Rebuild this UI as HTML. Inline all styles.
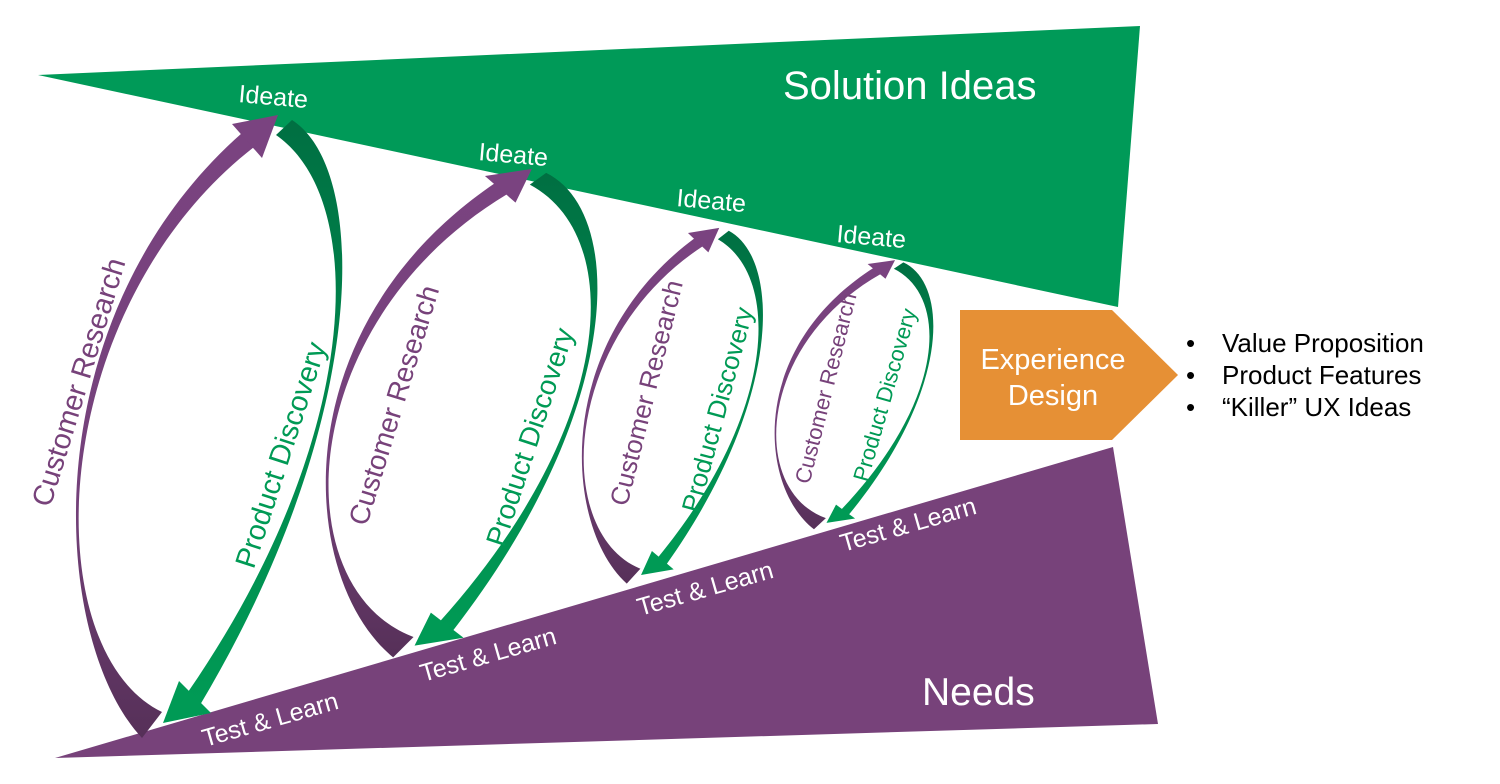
<!DOCTYPE html>
<html><head><meta charset="utf-8"><style>
html,body{margin:0;padding:0;background:#fff;}
svg{display:block;font-family:"Liberation Sans",Arial,sans-serif;}
</style></head><body>
<svg width="1500" height="784" viewBox="0 0 1500 784" xmlns="http://www.w3.org/2000/svg">
<defs>
<linearGradient id="pg" x1="0" y1="0" x2="0" y2="1">
<stop offset="0" stop-color="#7a4380"/><stop offset="0.6" stop-color="#74417a"/><stop offset="1" stop-color="#563058"/>
</linearGradient>
<linearGradient id="gg" x1="0" y1="0" x2="0" y2="1">
<stop offset="0" stop-color="#006f42"/><stop offset="0.4" stop-color="#00854c"/><stop offset="1" stop-color="#009a55"/>
</linearGradient>
<g id="loop">
<path d="M142,738 C50,640 30,320 242,133 L254,147 C45,310 34,650 162,712 Z" fill="url(#pg)"/>
<polygon points="232,124 278,115 262,158" fill="#7a4380"/>
<path d="M292,120 C370,170 370,420 200,705 L188,692 C362,440 370,200 276,135 Z" fill="url(#gg)"/>
<polygon points="211,713 163,723 179,681" fill="#009a55"/>
</g>
</defs>
<polygon points="38,75 1140,26 1118,307" fill="#009a58"/>
<polygon points="55,758 1113,447 1158,724" fill="#77427a"/>
<polygon points="960,310 1112,310 1178,375 1112,440 960,440" fill="#e69035"/>

<use href="#loop"/>
<use href="#loop" transform="translate(335,165) scale(1.02,0.784) translate(-85,-110)"/>
<use href="#loop" transform="translate(588,225) scale(0.68,0.571) translate(-85,-110)"/>
<use href="#loop" transform="translate(780,258) scale(0.596,0.432) translate(-85,-110)"/>

<g fill="#fff">
<text x="783" y="99" font-size="40">Solution Ideas</text>
<text x="922" y="705" font-size="39">Needs</text>
<g font-size="25">
<text transform="translate(238,102) rotate(5)">Ideate</text>
<text transform="translate(478,160) rotate(5)">Ideate</text>
<text transform="translate(676,206) rotate(5)">Ideate</text>
<text transform="translate(836,242) rotate(5)">Ideate</text>
<text transform="translate(205,747) rotate(-16)">Test &amp; Learn</text>
<text transform="translate(423,682) rotate(-16)">Test &amp; Learn</text>
<text transform="translate(640,616) rotate(-16)">Test &amp; Learn</text>
<text transform="translate(843,552) rotate(-16)">Test &amp; Learn</text>
</g>
<text x="1053" y="369" font-size="29" text-anchor="middle">Experience</text>
<text x="1053" y="405" font-size="29" text-anchor="middle">Design</text>
</g>

<g fill="#77427a" text-anchor="middle">
<text transform="translate(88,385) rotate(-73)" font-size="29">Customer Research</text>
<text transform="translate(403,408) rotate(-73)" font-size="28">Customer Research</text>
<text transform="translate(655,395) rotate(-76)" font-size="26">Customer Research</text>
<text transform="translate(833,390) rotate(-76)" font-size="22">Customer Research</text>
</g>
<g fill="#009a55" text-anchor="middle">
<text transform="translate(290,458) rotate(-72)" font-size="29">Product Discovery</text>
<text transform="translate(539,440) rotate(-72)" font-size="28">Product Discovery</text>
<text transform="translate(726,412) rotate(-75)" font-size="26">Product Discovery</text>
<text transform="translate(892,397) rotate(-74)" font-size="22">Product Discovery</text>
</g>

<g fill="#000" font-size="26">
<text x="1186" y="352">•</text><text x="1222" y="352">Value Proposition</text>
<text x="1186" y="384">•</text><text x="1222" y="384">Product Features</text>
<text x="1186" y="416">•</text><text x="1222" y="416">“Killer” UX Ideas</text>
</g>
</svg>
</body></html>
